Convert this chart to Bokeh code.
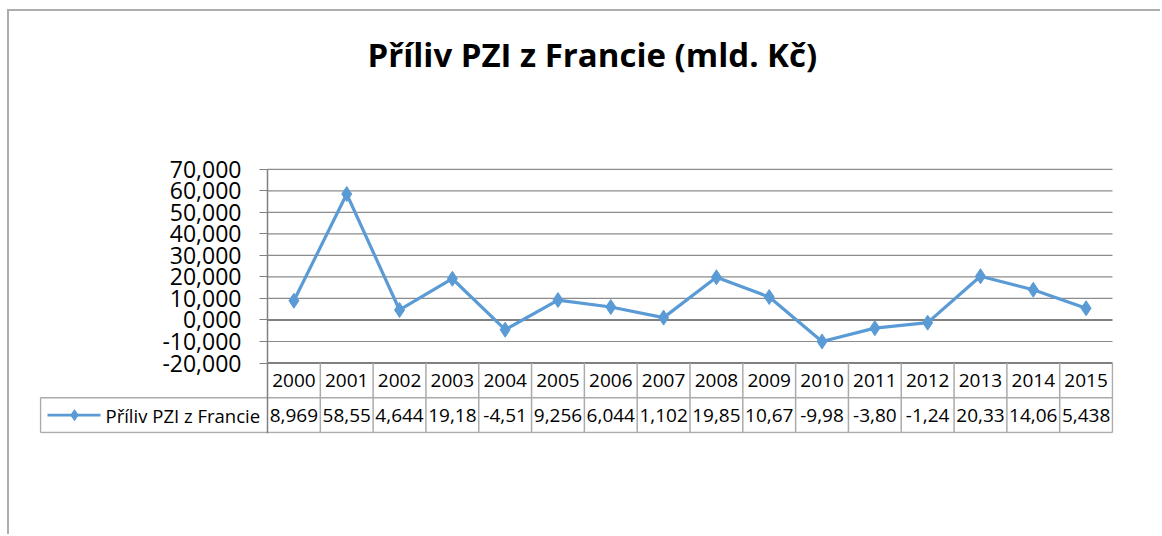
from bokeh.plotting import figure
from bokeh.models import Range1d, FixedTicker, Title
from bokeh.embed import file_html
from bokeh.resources import INLINE
from bokeh.core.properties import value

# ---- data ----
title_text = "Příliv PZI z Francie (mld. Kč)"
series_name = "Příliv PZI z Francie"
years = ["2000", "2001", "2002", "2003", "2004", "2005", "2006", "2007",
         "2008", "2009", "2010", "2011", "2012", "2013", "2014", "2015"]
values = [8.969, 58.55, 4.644, 19.18, -4.51, 9.256, 6.044, 1.102,
          19.85, 10.67, -9.98, -3.80, -1.24, 20.33, 14.06, 5.438]
value_labels = ["8,969", "58,55", "4,644", "19,18", "-4,51", "9,256", "6,044", "1,102",
                "19,85", "10,67", "-9,98", "-3,80", "-1,24", "20,33", "14,06", "5,438"]
y_ticks = [-20, -10, 0, 10, 20, 30, 40, 50, 60, 70]
y_tick_labels = ["-20,000", "-10,000", "0,000", "10,000", "20,000", "30,000",
                 "40,000", "50,000", "60,000", "70,000"]

# ---- style / layout constants ----
LINE_COLOR = "#5B9BD5"
GRID_COLOR = "#8C8C8C"
AXIS_COLOR = "#808080"
TABLE_COLOR = "#ABABAB"
FONT = "Open Sans"

n = len(years)
xs = [i + 0.5 for i in range(n)]

W, H = 1153, 525
PLOT_W = 845             # width of the value area in px
LEGEND_W = 228           # width of the legend cell (incl. 1px pad)
LEFT = 30
FRAME_W = LEGEND_W + PLOT_W + 1
RIGHT = W - LEFT - FRAME_W
HEAD_PAD = 13            # room above the top grid line for the top tick label
TOP = 156 - HEAD_PAD
PLOT_PX = 195            # height of the value area in px
ROW_PX = 35              # table row height in px
FRAME_H = HEAD_PAD + PLOT_PX + 2 * ROW_PX + 1
BOTTOM = H - TOP - FRAME_H

col_w = PLOT_W / n
L = (LEGEND_W - 1) / col_w           # legend column width (data units)
ymin, ymax = y_ticks[0], y_ticks[-1]
k = PLOT_PX / (ymax - ymin)           # px per unit
row_u = ROW_PX / k
r1 = ymin - row_u                     # header row bottom
r2 = ymin - 2 * row_u                 # value row bottom
ry1 = (ymin + r1) / 2
ry2 = (r1 + r2) / 2
y_lo = r2 - 1 / k

p = figure(width=W, height=H,
           x_range=Range1d(-LEGEND_W / col_w, n + 1 / col_w),
           y_range=Range1d(y_lo, ymax + HEAD_PAD / k),
           title=None, output_backend="svg", toolbar_location=None, x_axis_location=None,
           min_border_left=LEFT, min_border_right=RIGHT, min_border_top=TOP, min_border_bottom=BOTTOM,
           background_fill_color="white", border_fill_color="white")
p.styles = {"border-left": "2px solid #ADADAD", "border-top": "2px solid #ADADAD",
            "margin-left": "7px", "margin-top": "9px"}
p.outline_line_color = None
p.grid.visible = False

# title stacked above a spacer
p.add_layout(Title(text=" ", text_font_size="10px", standoff=61 - HEAD_PAD), "above")
p.add_layout(Title(text=title_text, align="left", offset=328, text_font=FONT, text_font_style="bold",
                   text_font_size="33px", text_color="black", standoff=37), "above")

# y axis drawn at x = 0 (left edge of the value area)
ax = p.yaxis[0]
ax.fixed_location = 0
ax.bounds = (y_lo, ymax)
ax.ticker = FixedTicker(ticks=y_ticks)
ax.major_label_overrides = {t: s for t, s in zip(y_ticks, y_tick_labels)}
ax.axis_line_color = AXIS_COLOR
ax.axis_line_width = 1.5
ax.major_tick_line_color = AXIS_COLOR
ax.major_tick_out = 8
ax.major_tick_in = 0
ax.minor_tick_line_color = None
ax.major_label_text_font = FONT
ax.major_label_text_font_size = "23px"
ax.major_label_text_color = "black"
ax.major_label_standoff = 18

# horizontal grid lines over the value area
grid_ticks = [t for t in y_ticks if t not in (0, ymin)]
p.segment(x0=[0] * len(grid_ticks), y0=grid_ticks, x1=[n] * len(grid_ticks), y1=grid_ticks,
          line_color=GRID_COLOR, line_width=1.2)
p.segment(x0=[0, 0], y0=[0, ymin], x1=[n, n], y1=[0, ymin], line_color=AXIS_COLOR, line_width=1.8)

# series
p.line(xs, values, line_color=LINE_COLOR, line_width=3.2)
p.scatter(xs, values, marker="diamond", size=15, fill_color=LINE_COLOR, line_color=LINE_COLOR)

# ---- data table ----
p.segment(x0=[-L, -L], y0=[r1, r2], x1=[n, n], y1=[r1, r2], line_color=TABLE_COLOR, line_width=1.5)
p.segment(x0=list(range(1, n + 1)), y0=[r2] * n, x1=list(range(1, n + 1)), y1=[ymin] * n,
          line_color=TABLE_COLOR, line_width=1.5)
p.segment(x0=[-L], y0=[r2], x1=[-L], y1=[r1], line_color=TABLE_COLOR, line_width=1.5)

p.text(x=xs, y=[ry1] * n, text=years, text_align="center", text_baseline="middle",
       text_font=value(FONT), text_font_size="19px", text_color="black")
p.text(x=xs, y=[ry2] * n, text=value_labels, text_align="center", text_baseline="middle",
       text_font=value(FONT), text_font_size="19px", text_color="black")

# legend key cell
p.line(x=[-L + 7 / col_w, -L + 60 / col_w], y=[ry2, ry2], line_color=LINE_COLOR, line_width=2.8)
p.scatter(x=[-L + 34 / col_w], y=[ry2], marker="diamond", size=11, fill_color=LINE_COLOR, line_color=LINE_COLOR)
p.text(x=[-L + 65 / col_w], y=[ry2], text=[series_name], text_align="left", text_baseline="middle",
       text_font=value(FONT), text_font_size="18.5px", text_color="black")

open("out.html", "w").write(file_html(p, INLINE))
